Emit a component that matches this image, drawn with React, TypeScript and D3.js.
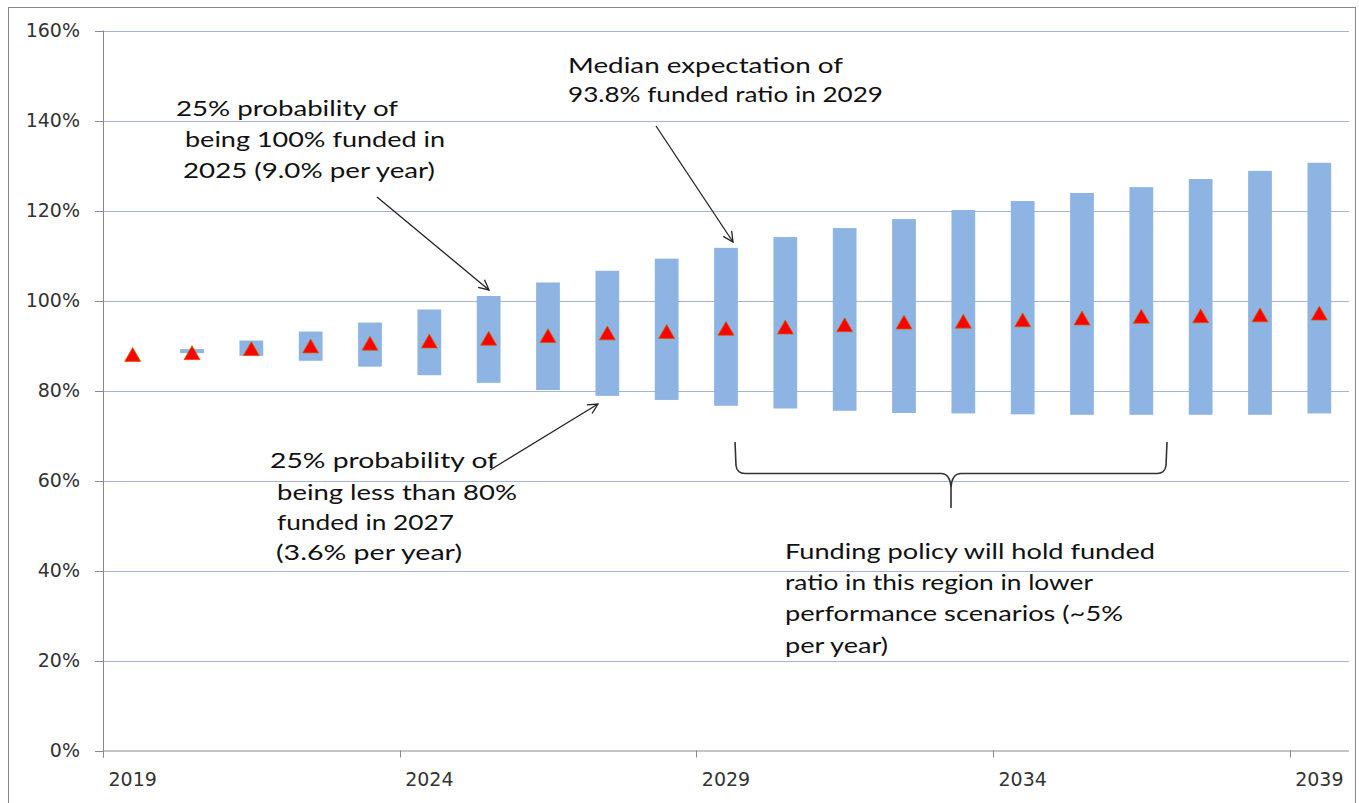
import React from "react";
import * as d3 from "d3";

// ---- data ----
const years = [
  "2019", "2020", "2021", "2022", "2023", "2024", "2025", "2026", "2027", "2028",
  "2029", "2030", "2031", "2032", "2033", "2034", "2035", "2036", "2037", "2038", "2039",
];
const lowValues = [
  88.0, 88.3, 87.7, 86.6, 85.3, 83.4, 81.7, 80.1, 78.8, 77.9,
  76.6, 76.0, 75.5, 75.0, 74.9, 74.7, 74.6, 74.6, 74.6, 74.6, 74.9,
];
const highValues = [
  88.0, 89.2, 91.1, 93.1, 95.1, 98.0, 101.0, 104.0, 106.6, 109.3,
  111.7, 114.1, 116.1, 118.1, 120.1, 122.1, 123.9, 125.2, 127.0, 128.8, 130.6,
];
const medianValues = [
  88.0, 88.4, 89.3, 89.9, 90.5, 91.0, 91.6, 92.2, 92.8, 93.1,
  93.8, 94.1, 94.6, 95.2, 95.4, 95.7, 96.1, 96.5, 96.6, 96.8, 97.2,
];
const yTicks = [0, 20, 40, 60, 80, 100, 120, 140, 160];
const xTickYears = ["2019", "2024", "2029", "2034", "2039"];

const note1 = ["25% probability of", "being 100% funded in", "2025 (9.0% per year)"];
const note2 = ["Median expectation of", "93.8% funded ratio in 2029"];
const note3 = ["25% probability of", "being less than 80%", "funded in 2027", "(3.6% per year)"];
const note4 = [
  "Funding policy will hold funded",
  "ratio in this region in lower",
  "performance scenarios (~5%",
  "per year)",
];

const BAR = "#8DB4E2";
const GRID = "#A3B6D3";
const AXIS = "#8A8A8A";
const LABEL = "#333333";

type Line = { t: string; x: number; y: number; w: number };

function Note({ lines }: { lines: Line[] }) {
  return (
    <g fontFamily="Lato, 'Open Sans', sans-serif" fontSize={21} fill="#111">
      {lines.map((l, i) => (
        <text key={i} x={l.x} y={l.y} textLength={l.w} lengthAdjust="spacingAndGlyphs">
          {l.t}
        </text>
      ))}
    </g>
  );
}

export default function App() {
  const W = 1359;
  const H = 803;
  const left = 103;
  const right = 1349;
  const top = 30.5;
  const bottom = 750.5;

  const x = d3
    .scaleBand<string>()
    .domain(years)
    .range([left, right])
    .paddingInner(0.6)
    .paddingOuter(0.3);
  const y = d3.scaleLinear().domain([0, 160]).range([bottom, top]);
  const step = x.step();
  const bw = x.bandwidth();
  const boundary = (yr: string) => (x(yr) as number) - step * 0.3;
  const cx = (yr: string) => (x(yr) as number) + bw / 2;

  const triHalf = 8;
  const triY = triHalf / Math.sqrt(3);
  const triSize = 3 * Math.sqrt(3) * triY * triY;
  const tri = d3.symbol().type(d3.symbolTriangle).size(triSize)() as string;

  // brace
  const bL = 735, bR = 1167, bTop = 442, bMid = 473.5, bTip = 508;
  const bC = (bL + bR) / 2;
  const brace = d3.path();
  brace.moveTo(bL, bTop);
  brace.lineTo(bL + 1, bMid - 8);
  brace.quadraticCurveTo(bL + 2, bMid, bL + 10, bMid);
  brace.lineTo(bC - 10, bMid);
  brace.quadraticCurveTo(bC - 1, bMid, bC, bMid + 14);
  brace.lineTo(bC, bTip);
  brace.moveTo(bC, bMid + 14);
  brace.quadraticCurveTo(bC + 1, bMid, bC + 10, bMid);
  brace.lineTo(bR - 10, bMid);
  brace.quadraticCurveTo(bR - 2, bMid, bR - 1, bMid - 8);
  brace.lineTo(bR, bTop);

  const arrows = [
    { x1: 377, y1: 197, x2: 489, y2: 290 },
    { x1: 656, y1: 126, x2: 733, y2: 242 },
    { x1: 490, y1: 470, x2: 598, y2: 404 },
  ];

  const n1: Line[] = [
    { t: note1[0], x: 176, y: 116, w: 222 },
    { t: note1[1], x: 185, y: 147, w: 260 },
    { t: note1[2], x: 183, y: 178, w: 252 },
  ];
  const n2: Line[] = [
    { t: note2[0], x: 568, y: 73, w: 275 },
    { t: note2[1], x: 568, y: 102, w: 315 },
  ];
  const n3: Line[] = [
    { t: note3[0], x: 270, y: 468, w: 227 },
    { t: note3[1], x: 277, y: 500, w: 240 },
    { t: note3[2], x: 277, y: 530, w: 177 },
    { t: note3[3], x: 276, y: 560, w: 186 },
  ];
  const n4: Line[] = [
    { t: note4[0], x: 785, y: 559, w: 370 },
    { t: note4[1], x: 785, y: 590, w: 308 },
    { t: note4[2], x: 785, y: 621, w: 338 },
    { t: note4[3], x: 785, y: 653, w: 103 },
  ];

  return (
    <svg
      width={W}
      height={H}
      style={{ position: "absolute", left: 0, top: 0, background: "#fff" }}
    >
      <defs>
        <marker
          id="ah"
          viewBox="0 0 12 12"
          refX={11}
          refY={6}
          markerWidth={12}
          markerHeight={12}
          markerUnits="userSpaceOnUse"
          orient="auto"
        >
          <path d="M1,1 L11,6 L1,11" fill="none" stroke="#222" strokeWidth={1.3} />
        </marker>
      </defs>
      <rect x={8.5} y={7.5} width={1347} height={800} fill="#fff" stroke={AXIS} strokeWidth={1} />

      {/* gridlines */}
      {yTicks.filter((t) => t > 0).map((t) => (
        <line key={t} x1={left} x2={right} y1={Math.round(y(t)) + 0.5} y2={Math.round(y(t)) + 0.5} stroke={GRID} strokeWidth={1} />
      ))}

      {/* y axis */}
      <line x1={left + 0.5} x2={left + 0.5} y1={top} y2={bottom + 7} stroke={AXIS} />
      {yTicks.map((t) => (
        <g key={t}>
          <line x1={left - 8} x2={left} y1={Math.round(y(t)) + 0.5} y2={Math.round(y(t)) + 0.5} stroke={AXIS} />
          <text
            x={80}
            y={y(t)}
            dy="0.36em"
            textAnchor="end"
            fontFamily="'DejaVu Sans', Verdana, sans-serif"
            fontSize={19}
            fill={LABEL}
          >
            {t}%
          </text>
        </g>
      ))}

      {/* x axis */}
      <line x1={left} x2={right} y1={bottom + 0.5} y2={bottom + 0.5} stroke={AXIS} />
      {xTickYears.map((yr) => (
        <g key={yr}>
          <line x1={Math.round(boundary(yr)) + 0.5} x2={Math.round(boundary(yr)) + 0.5} y1={bottom} y2={bottom + 7} stroke={AXIS} />
          <text
            x={cx(yr)}
            y={786}
            textAnchor="middle"
            fontFamily="'DejaVu Sans', Verdana, sans-serif"
            fontSize={19}
            fill={LABEL}
          >
            {yr}
          </text>
        </g>
      ))}

      {/* floating bars */}
      {years.map((yr, i) => (
        <rect
          key={yr}
          x={x(yr)}
          width={bw}
          y={y(highValues[i])}
          height={Math.max(0, y(lowValues[i]) - y(highValues[i]))}
          fill={BAR}
        />
      ))}

      {/* median markers */}
      {years.map((yr, i) => (
        <path
          key={yr}
          d={tri}
          transform={`translate(${cx(yr)},${y(medianValues[i]) + triY / 2})`}
          fill="#FF0000"
          stroke="#C86400"
          strokeWidth={0.8}
        />
      ))}

      {/* annotations */}
      {arrows.map((a, i) => (
        <line key={i} x1={a.x1} y1={a.y1} x2={a.x2} y2={a.y2} stroke="#222" strokeWidth={1.3} markerEnd="url(#ah)" />
      ))}
      <path d={brace.toString()} fill="none" stroke="#333" strokeWidth={1.6} />
      <Note lines={n1} />
      <Note lines={n2} />
      <Note lines={n3} />
      <Note lines={n4} />
    </svg>
  );
}
